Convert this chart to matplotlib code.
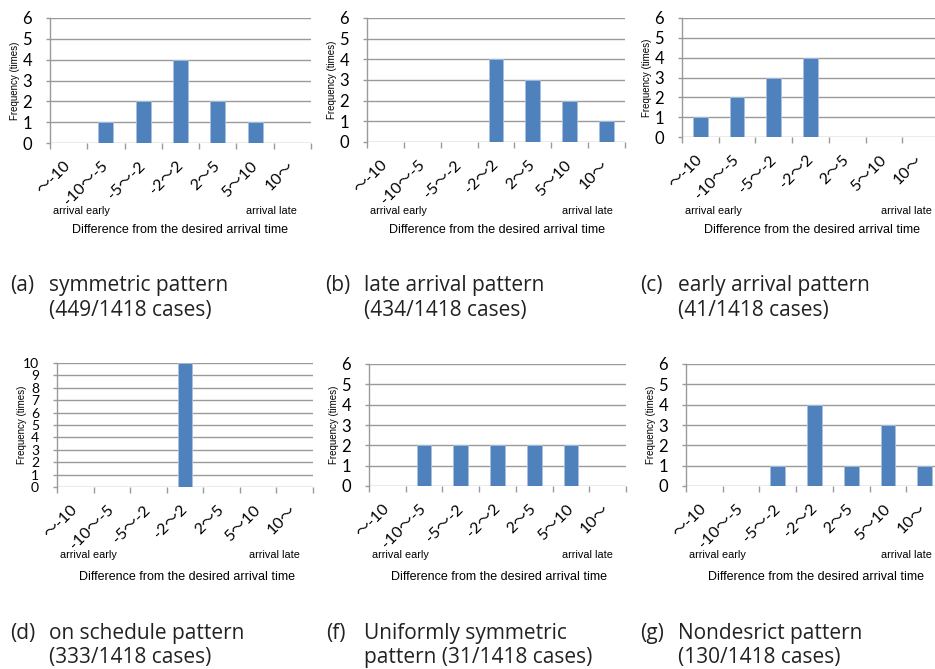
import matplotlib
matplotlib.use("Agg")
import matplotlib.pyplot as plt
import numpy as np

W, H = 935, 669

categories = ["～-10", "-10～-5", "-5～-2", "-2～2", "2～5", "5～10", "10～"]

freq_a = [0, 1, 2, 4, 2, 1, 0]
freq_b = [0, 0, 0, 4, 3, 2, 1]
freq_c = [1, 2, 3, 4, 0, 0, 0]
freq_d = [0, 0, 0, 10, 0, 0, 0]
freq_f = [0, 2, 2, 2, 2, 2, 0]
freq_g = [0, 0, 1, 4, 1, 3, 1]

ymax = [6, 6, 6, 10, 6, 6]

captions = [
    ("(a)", "symmetric pattern", "(449/1418 cases)"),
    ("(b)", "late arrival pattern", "(434/1418 cases)"),
    ("(c)", "early arrival pattern", "(41/1418 cases)"),
    ("(d)", "on schedule pattern", "(333/1418 cases)"),
    ("(f)", "Uniformly symmetric", "pattern (31/1418 cases)"),
    ("(g)", "Nondesrict pattern", "(130/1418 cases)"),
]

# axes boxes in pixels: left, right, top, bottom
boxes = [
    (50, 311, 18, 143),
    (367, 625, 18, 142),
    (682, 939, 18, 137),
    (57, 313, 363, 487),
    (369, 626, 364, 486),
    (686, 943, 364, 486),
]
# vertical positions of the annotation texts (pixels)
row_y = [(211, 230, 286, 310), (211, 230, 286, 310),
         (211, 230, 286, 310), (555, 577, 633, 657),
         (555, 577, 633, 657), (555, 577, 633, 657)]
caption_x = [(10, 49), (325, 364), (640, 678), (10, 49), (326, 364), (640, 678)]
late_right = [297, 613, 932, 300, 613, 932]

series = [freq_a, freq_b, freq_c, freq_d, freq_f, freq_g]

bar_color = "#4F81BD"
grid_color = "#9a9a9a"
tick_font = ["Lato", "Noto Sans CJK JP"]
small_font = "Liberation Sans"
cap_font = "Open Sans"
cap_size = 15
cap_color = "#222222"

fig = plt.figure(figsize=(W / 100, H / 100), dpi=100)
fig.patch.set_facecolor("white")

def fx(px):
    return px / W

def fy(py):
    return 1 - py / H

for i, vals in enumerate(series):
    l, r, t, b = boxes[i]
    ax = fig.add_axes([fx(l), fy(b), (r - l) / W, (b - t) / H])
    x = np.arange(len(categories)) + 0.5
    ax.bar(x, vals, width=0.4, color=bar_color, edgecolor="#a7c0de",
           linewidth=0.6, zorder=3)
    ax.set_xlim(0, len(categories))
    ax.set_ylim(0, ymax[i])
    ax.set_yticks(range(0, ymax[i] + 1))
    ax.yaxis.grid(True, color=grid_color, linewidth=1.0, zorder=0)
    ax.set_axisbelow(True)
    for s in ("top", "right", "bottom"):
        ax.spines[s].set_visible(False)
    ax.spines["left"].set_color(grid_color)
    ax.spines["left"].set_linewidth(1.0)
    ysize = 12 if ymax[i] <= 6 else 10
    ax.tick_params(axis="y", length=3, width=1.0, color=grid_color, pad=10,
                   labelsize=ysize, labelcolor="black")
    for lab in ax.get_yticklabels():
        lab.set_family(tick_font)
    # category boundaries carry the tick marks, centres carry the labels
    ax.set_xticks(np.arange(0, len(categories) + 1), minor=True)
    ax.set_xticks(x)
    ax.set_xticklabels(categories, rotation=45, ha="right", va="center",
                       rotation_mode="anchor", family=tick_font, fontsize=11.5)
    ax.tick_params(axis="x", which="major", length=0, pad=15)
    ax.tick_params(axis="x", which="minor", length=4, width=1.0,
                   color=grid_color, direction="out")
    ax.set_ylabel("Frequency (times)", family=small_font, fontsize=7)
    ax.yaxis.set_label_coords(-30 / (r - l), 0.5)

    ya, yd, yc1, yc2 = row_y[i]
    fig.text(fx(l + 3), fy(ya), "arrival early", family=small_font,
             fontsize=7.8, ha="left", va="center")
    fig.text(fx(late_right[i]), fy(ya), "arrival late", family=small_font,
             fontsize=7.8, ha="right", va="center")
    fig.text(fx(l + 130), fy(yd), "Difference from the desired arrival time",
             family=small_font, fontsize=9, ha="center", va="center")

    cx1, cx2 = caption_x[i]
    tag, line1, line2 = captions[i]
    fig.text(fx(cx1), fy(yc1), tag, family=cap_font, fontsize=cap_size,
             color=cap_color, ha="left", va="center")
    fig.text(fx(cx2), fy(yc1), line1, family=cap_font, fontsize=cap_size,
             color=cap_color, ha="left", va="center")
    fig.text(fx(cx2), fy(yc2), line2, family=cap_font, fontsize=cap_size,
             color=cap_color, ha="left", va="center")

fig.savefig("out.png", dpi=100, facecolor="white")
